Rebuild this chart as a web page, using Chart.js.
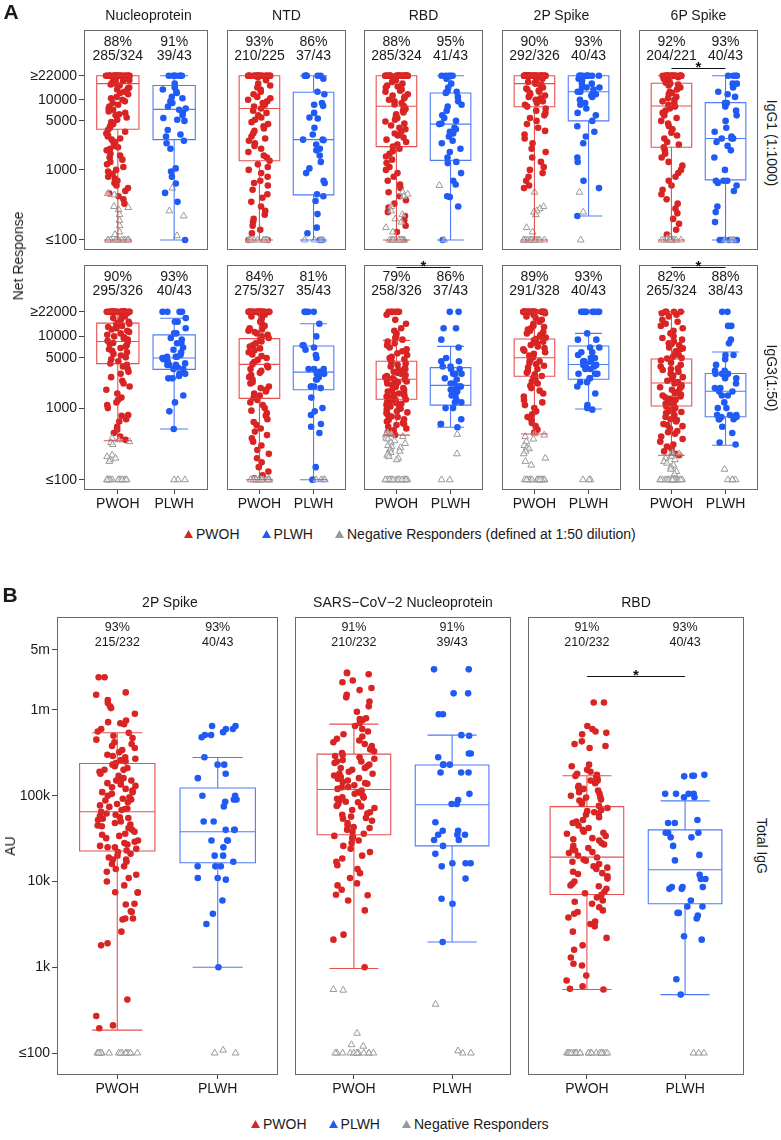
<!DOCTYPE html>
<html>
<head>
<meta charset="utf-8">
<script src="https://cdn.jsdelivr.net/npm/chart.js@4.4.0/dist/chart.umd.min.js"></script>
<style>
  body { margin: 0; background: #fff; }
  #page { position: relative; width: 781px; height: 1140px; overflow: hidden; font-family: "Liberation Sans", Arial, sans-serif; color: #1a1a1a; }
  #page canvas { position: absolute; }
  .lbl { position: absolute; white-space: nowrap; line-height: 1; }
  .legend { position: absolute; display: flex; align-items: center; font-size: 14px; line-height: 1; white-space: nowrap; }
  .legend svg { margin-right: 3px; }
  .legend span { margin-right: 22px; }
</style>
</head>
<body>
<div id="page"></div>
<script>
// ---------- labels ----------
const GROUPS = ['PWOH', 'PLWH'];
const A_ANTIGENS = ['Nucleoprotein', 'NTD', 'RBD', '2P Spike', '6P Spike'];
const A_ROWS = ['IgG1 (1:1000)', 'IgG3(1:50)'];
const B_ANTIGENS = ['2P Spike', 'SARS\u2212CoV\u22122 Nucleoprotein', 'RBD'];

const A_TICKS = [100, 1000, 5000, 10000, 22000];
const A_TICK_LABELS = ['\u2264100', '1000', '5000', '10000', '\u226522000'];
const B_TICKS = [100, 1000, 10000, 100000, 1000000, 5000000];
const B_TICK_LABELS = ['\u2264100', '1k', '10k', '100k', '1m', '5m'];

// response rates shown above the boxes
const IGG1_PCT_PWOH = ['88%', '93%', '88%', '90%', '92%'];
const IGG1_FRAC_PWOH = ['285/324', '210/225', '285/324', '292/326', '204/221'];
const IGG1_PCT_PLWH = ['91%', '86%', '95%', '93%', '93%'];
const IGG1_FRAC_PLWH = ['39/43', '37/43', '41/43', '40/43', '40/43'];
const IGG3_PCT_PWOH = ['90%', '84%', '79%', '89%', '82%'];
const IGG3_FRAC_PWOH = ['295/326', '275/327', '258/326', '291/328', '265/324'];
const IGG3_PCT_PLWH = ['93%', '81%', '86%', '93%', '88%'];
const IGG3_FRAC_PLWH = ['40/43', '35/43', '37/43', '40/43', '38/43'];
const B_PCT_PWOH = ['93%', '91%', '91%'];
const B_FRAC_PWOH = ['215/232', '210/232', '210/232'];
const B_PCT_PLWH = ['93%', '91%', '93%'];
const B_FRAC_PLWH = ['40/43', '39/43', '40/43'];
const IGG1_SIG = [false, false, false, false, true];
const IGG3_SIG = [false, false, true, false, true];
const B_SIG = [false, false, true];

// box stats: [lower whisker, Q1, median, Q3, upper whisker]
const IGG1_BOX_PWOH = [[100, 3800, 17000, 22000, 22000], [100, 1350, 7500, 22000, 22000], [100, 2150, 8100, 22000, 22000], [100, 7950, 17000, 22000, 22000], [100, 2100, 8150, 17200, 22000]];
const IGG1_BOX_PLWH = [[100, 2700, 7300, 16000, 22000], [100, 440, 2700, 12800, 22000], [100, 1365, 4500, 12500, 22000], [220, 5000, 13000, 22000, 22000], [100, 720, 2800, 9100, 22000]];
const IGG3_BOX_PWOH = [[350, 4170, 8500, 15300, 22000], [100, 1365, 4070, 9300, 22000], [420, 1330, 2530, 4500, 8800], [435, 2780, 5030, 9200, 22000], [220, 1070, 2240, 4840, 22000]];
const IGG3_BOX_PLWH = [[510, 3470, 5000, 10500, 17900], [100, 1800, 3170, 7330, 15000], [540, 1100, 2070, 3670, 7250], [970, 2530, 4050, 7330, 11000], [303, 757, 1720, 3030, 6050]];
const B_BOX_PWOH = [[185, 22700, 65000, 237000, 541000], [967, 35000, 118000, 305000, 683000], [550, 7060, 19200, 74500, 171000]];
const B_BOX_PLWH = [[1000, 16500, 38000, 123000, 279000], [1970, 26000, 78500, 228000, 508000], [480, 5500, 13700, 40000, 87000]];

// ---------- IgG1 (1:1000) points ----------
const IGG1_NUC_PWOH = [22000, 22000, 22000, 22000, 22000, 22000, 22000, 22000, 22000, 22000,
  22000, 22000, 22000, 22000, 22000, 22000, 22000, 22000, 22000, 22000,
  22000, 22000, 22000, 22000, 22000, 22000, 22000, 22000,
  20000, 19000, 18500, 18000, 17000, 16500, 16000, 15000, 14500, 14000, 13000, 12500, 12000, 11000,
  10500, 10000, 9500, 9000, 8500, 8000, 7500, 7200, 6800, 6500, 6200, 6000, 5600, 5200, 4800, 4500,
  4200, 4000, 3700, 3500, 3300, 3100, 3000, 2800, 2700, 2500, 2400, 2200, 2100, 2000, 1900, 1700,
  1600, 1500, 1400, 1300, 1200, 1100, 1000, 950, 880, 800, 750, 700, 650, 600, 550, 500, 460, 420, 380, 330];
const IGG1_NUC_NEG_PWOH = [460, 440, 300, 290, 270, 230, 190, 160, 130, 120,
  100, 100, 100, 100, 100, 100, 100, 100, 100, 100, 100, 100, 100, 100];
const IGG1_NUC_PLWH = [22000, 22000, 22000, 22000, 22000, 22000, 22000, 17000, 15000, 14000, 13000, 12500,
  11000, 10500, 9500, 9000, 8000, 7500, 7200, 6500, 6000, 5500, 5200, 5000, 3700, 3200, 3000, 2600,
  2400, 2000, 1050, 950, 800, 640, 470, 350, 100];
const IGG1_NUC_NEG_PLWH = [550, 260, 220, 115];

const IGG1_NTD_PWOH = [22000, 22000, 22000, 22000, 22000, 22000, 22000, 22000, 22000, 22000,
  22000, 22000, 22000, 22000, 22000, 22000, 22000, 22000, 22000, 22000, 22000, 22000,
  21000, 19000, 17000, 16000, 15000, 14000, 13000, 12000, 11000, 10500, 10000, 9500, 9000, 8500,
  8000, 7500, 7000, 6500, 6000, 5600, 5200, 4800, 4500, 4200, 3900, 3600, 3300, 3000, 2800, 2600,
  2400, 2200, 2000, 1800, 1600, 1500, 1350, 1200, 1100, 1000, 900, 800, 700, 650, 600, 520, 450,
  400, 350, 300, 260, 230, 200, 180, 160, 140, 125, 100, 100];
const IGG1_NTD_NEG_PWOH = [100, 100, 100, 100, 100, 100, 100, 100, 100, 100, 100, 100];
const IGG1_NTD_PLWH = [22000, 22000, 22000, 22000, 22000, 22000, 20000, 13000, 12000, 9000, 8500, 8200,
  6500, 5600, 5400, 4000, 3200, 2700, 2700, 2650, 2300, 2000, 1900, 1600, 1300, 1050, 900, 700, 650,
  450, 420, 360, 234, 150, 125, 100, 100];
const IGG1_NTD_NEG_PLWH = [100, 100, 100, 100];

const IGG1_RBD_PWOH = [22000, 22000, 22000, 22000, 22000, 22000, 22000, 22000, 22000, 22000,
  22000, 22000, 22000, 22000, 22000, 22000, 22000, 22000, 22000, 22000,
  22000, 22000, 22000, 22000, 22000, 22000, 22000, 22000, 22000, 22000,
  20000, 19000, 18000, 17000, 16000, 15500, 15000, 14000, 13500, 13000, 12000, 11500, 11000, 10500,
  10000, 9500, 9000, 8600, 8200, 7800, 7400, 7000, 6600, 6200, 5800, 5500, 5200, 4900, 4600, 4300,
  4000, 3800, 3500, 3300, 3100, 2900, 2700, 2500, 2300, 2150, 2000, 1850, 1700, 1550, 1400, 1250,
  1100, 1000, 900, 800, 700, 620, 550, 480, 420, 370, 330, 290, 250, 220, 190, 160, 130];
const IGG1_RBD_NEG_PWOH = [480, 450, 420, 300, 260, 230, 200, 180, 150, 130,
  100, 100, 100, 100, 100, 100, 100, 100, 100, 100, 100, 100, 100, 100];
const IGG1_RBD_PLWH = [22000, 22000, 22000, 22000, 22000, 20000, 17000, 15000, 13000, 13000, 12500,
  11000, 9500, 8500, 8000, 7000, 6000, 5500, 5000, 4600, 4500, 4000, 3800, 3500, 3300, 3000, 2600,
  2400, 2000, 1800, 1500, 1300, 1250, 900, 700, 620, 420, 410, 300, 100];
const IGG1_RBD_NEG_PLWH = [600, 100];

const IGG1_2P_PWOH = [22000, 22000, 22000, 22000, 22000, 22000, 22000, 22000, 22000, 22000,
  22000, 22000, 22000, 22000, 22000, 22000, 22000, 22000, 22000, 22000,
  22000, 22000, 22000, 22000, 22000, 22000, 22000, 22000, 22000, 22000,
  22000, 22000, 22000, 22000, 22000, 22000, 22000, 22000, 22000, 22000,
  21000, 20000, 19000, 18000, 17500, 17000, 16500, 16000, 15000, 14500, 14000, 13500, 13000, 12500,
  12000, 11500, 11000, 10500, 10000, 9500, 9000, 8500, 8000, 7500, 7000, 6500, 6000, 5500, 5000,
  4500, 4000, 3600, 3200, 2800, 2400, 2000, 1800, 1500, 1300, 1100, 1000, 900, 800, 700, 600, 550];
const IGG1_2P_NEG_PWOH = [480, 300, 280, 260, 250, 230, 150, 130,
  100, 100, 100, 100, 100, 100, 100, 100, 100, 100, 100, 100, 100, 100];
const IGG1_2P_PLWH = [22000, 22000, 22000, 22000, 22000, 22000, 22000, 22000, 22000, 22000, 20000,
  19000, 17000, 17000, 15000, 15000, 15000, 14000, 13000, 13000, 12000, 12000, 11500, 11000, 10000,
  9000, 8500, 7500, 6500, 6000, 5000, 4200, 3500, 3000, 2400, 1500, 1300, 700, 550, 220];
const IGG1_2P_NEG_PLWH = [480, 250, 100];

const IGG1_6P_PWOH = [22000, 22000, 22000, 22000, 22000, 22000, 22000, 22000, 22000, 22000,
  22000, 22000, 22000, 22000, 22000, 22000, 22000, 22000, 22000, 22000, 22000, 22000,
  21000, 20000, 19000, 18000, 17500, 17000, 16500, 16000, 15000, 14000, 13000, 12500, 12000, 11000,
  10500, 10000, 9500, 9000, 8500, 8000, 7500, 7000, 6500, 6000, 5500, 5000, 4600, 4200, 3800, 3400,
  3100, 2800, 2500, 2300, 2100, 1900, 1700, 1500, 1300, 1150, 1000, 900, 800, 700, 600, 520, 450,
  380, 330, 280, 240, 200, 170, 140, 120];
const IGG1_6P_NEG_PWOH = [110, 105, 100, 100, 100, 100, 100, 100, 100, 100, 100, 100, 100, 100];
const IGG1_6P_PLWH = [22000, 22000, 22000, 22000, 17000, 17000, 15000, 13000, 12000, 11000, 9000, 9000,
  8000, 7000, 6000, 5000, 4000, 3500, 3000, 2800, 2800, 2800, 2500, 2200, 1900, 1500, 1000, 700,
  700, 700, 650, 600, 500, 300, 250, 180, 100, 100, 100, 100, 100];
const IGG1_6P_NEG_PLWH = [100, 100, 100];

// ---------- IgG3 (1:50) points ----------
const IGG3_NUC_PWOH = [22000, 22000, 22000, 22000, 22000, 22000, 22000, 22000, 22000, 22000,
  22000, 22000, 22000, 22000, 22000, 22000, 22000, 22000, 22000, 22000,
  22000, 22000, 22000, 22000, 22000, 22000, 22000, 22000, 22000, 22000,
  21000, 20000, 19000, 18000, 17000, 16000, 15500, 15000, 14500, 14000, 13500, 13000, 12500, 12000,
  11500, 11000, 10500, 10000, 9700, 9400, 9000, 8700, 8400, 8100, 7800, 7500, 7200, 6900, 6600,
  6300, 6000, 5700, 5400, 5100, 4800, 4500, 4200, 4000, 3800, 3500, 3200, 3000, 2700, 2400, 2200,
  2000, 1800, 1600, 1400, 1300, 1200, 1100, 1000, 800, 780, 700, 650, 550, 500, 450, 400, 360];
const IGG3_NUC_NEG_PWOH = [380, 360, 340, 330, 310, 220, 210, 200, 190, 180,
  100, 100, 100, 100, 100, 100, 100, 100, 100, 100, 100, 100, 100, 100];
const IGG3_NUC_PLWH = [22000, 22000, 22000, 22000, 18000, 16000, 16000, 13000, 11000, 11000, 9500, 9000,
  8000, 8000, 7000, 6500, 6000, 5500, 5200, 5200, 5200, 5000, 4800, 4500, 4200, 4000, 4000, 4000,
  3700, 3500, 3500, 3000, 3000, 2800, 2600, 2600, 1500, 1200, 900, 510];
const IGG3_NUC_NEG_PLWH = [100, 100, 100];

const IGG3_NTD_PWOH = [22000, 22000, 22000, 22000, 22000, 22000, 22000, 22000, 22000, 22000,
  22000, 22000, 22000, 22000, 22000, 22000, 22000, 22000, 22000, 22000,
  21000, 20000, 19000, 18000, 17000, 16000, 15000, 14000, 13000, 12500, 12000, 11500, 11000, 10500,
  10000, 9500, 9000, 8500, 8000, 7600, 7200, 6800, 6400, 6000, 5600, 5300, 5000, 4700, 4400, 4100,
  3900, 3700, 3500, 3300, 3100, 2900, 2700, 2500, 2300, 2200, 2000, 1900, 1800, 1700, 1600, 1500,
  1400, 1300, 1200, 1100, 1000, 920, 850, 780, 700, 640, 580, 520, 470, 420, 380, 340, 300, 260,
  230, 200, 175, 150, 130, 115, 105];
const IGG3_NTD_NEG_PWOH = [100, 100, 100, 100, 100, 100, 100, 100, 100, 100,
  100, 100, 100, 100, 100, 100, 100, 100, 100, 100];
const IGG3_NTD_PLWH = [22000, 22000, 22000, 22000, 15000, 10000, 7500, 7500, 7000, 6500, 5500, 5000,
  3500, 3500, 3500, 3200, 3000, 3000, 2700, 2500, 2500, 2000, 2000, 2000, 1900, 1400, 1000, 900,
  800, 600, 550, 450, 150, 100, 100];
const IGG3_NTD_NEG_PLWH = [100, 100, 100, 100];

const IGG3_RBD_PWOH = [22000, 22000, 22000, 22000, 22000, 22000, 20000, 17000, 15000, 13000, 12000,
  11000, 10000, 9500, 9000, 8500, 8000, 7500, 7000, 6600, 6200, 5800, 5500, 5200, 5000, 4800, 4600,
  4400, 4200, 4000, 3800, 3600, 3500, 3400, 3300, 3200, 3100, 3000, 2900, 2800, 2700, 2600, 2500,
  2450, 2400, 2350, 2300, 2200, 2100, 2000, 1950, 1900, 1800, 1750, 1700, 1650, 1600, 1550, 1500,
  1450, 1400, 1350, 1320, 1300, 1250, 1200, 1180, 1150, 1100, 1050, 1000, 980, 950, 900, 870, 850,
  800, 760, 750, 700, 680, 650, 620, 600, 580, 550, 520, 490, 480, 460, 440, 420];
const IGG3_RBD_NEG_PWOH = [450, 430, 420, 400, 380, 370, 350, 330, 320, 300, 290, 280, 270, 260, 250,
  240, 230, 220, 210, 200, 190, 100, 100, 100, 100, 100, 100, 100, 100, 100, 100, 100, 100, 100,
  100, 100, 100, 100, 100];
const IGG3_RBD_PLWH = [22000, 22000, 13000, 13000, 9000, 7000, 5000, 4500, 4500, 3800, 3800, 3500,
  3500, 3000, 3000, 3000, 2600, 2500, 2200, 2200, 2000, 2000, 2000, 1800, 1800, 1700, 1500, 1500,
  1300, 1200, 1200, 1000, 1000, 700, 600, 600, 540];
const IGG3_RBD_NEG_PLWH = [430, 230, 100, 100];

const IGG3_2P_PWOH = [22000, 22000, 22000, 22000, 22000, 22000, 22000, 22000, 22000, 22000,
  22000, 22000, 22000, 22000, 22000, 22000, 22000, 22000, 22000, 22000, 22000, 22000,
  21000, 20000, 19000, 18000, 17000, 16000, 15000, 14000, 13500, 13000, 12500, 12000, 11500, 11000,
  10500, 10000, 9600, 9200, 8800, 8400, 8000, 7600, 7200, 6900, 6600, 6300, 6000, 5700, 5400, 5100,
  4900, 4700, 4500, 4300, 4100, 3900, 3700, 3500, 3300, 3100, 2950, 2800, 2650, 2500, 2350, 2200,
  2050, 1900, 1750, 1600, 1450, 1300, 1200, 1100, 1000, 900, 820, 750, 680, 620, 560, 500, 460];
const IGG3_2P_NEG_PWOH = [440, 420, 400, 370, 340, 300, 280, 270, 250, 230, 200, 180, 160,
  100, 100, 100, 100, 100, 100, 100, 100, 100, 100, 100, 100, 100, 100, 100, 100];
const IGG3_2P_PLWH = [22000, 22000, 22000, 22000, 22000, 22000, 22000, 22000, 11000, 9000, 9000, 7000,
  7000, 6000, 6000, 5500, 5000, 5000, 5000, 4500, 4500, 4500, 4000, 4000, 4000, 3800, 3500, 3500,
  3000, 3000, 3000, 2600, 2600, 2300, 2300, 2000, 1600, 1100, 1000, 950];
const IGG3_2P_NEG_PLWH = [100, 100, 100];

const IGG3_6P_PWOH = [22000, 22000, 22000, 22000, 21000, 20000, 19000, 17000, 16000, 15000, 14000,
  13000, 12000, 11000, 10000, 9500, 9000, 8500, 8000, 7800, 7500, 7000, 6800, 6600, 6200, 5800,
  5500, 5200, 5000, 4900, 4600, 4300, 4000, 3800, 3600, 3500, 3400, 3200, 3000, 2850, 2700, 2600,
  2550, 2400, 2300, 2200, 2100, 2000, 1950, 1900, 1800, 1700, 1600, 1550, 1500, 1450, 1400, 1350,
  1300, 1250, 1200, 1180, 1150, 1100, 1050, 1000, 980, 950, 900, 880, 850, 800, 780, 750, 700, 680,
  650, 600, 580, 560, 520, 480, 460, 440, 400, 370, 340, 310, 290, 270, 250, 230, 220];
const IGG3_6P_NEG_PWOH = [240, 230, 220, 210, 200, 190, 180, 170, 160, 150, 140, 130, 120,
  100, 100, 100, 100, 100, 100, 100, 100, 100, 100, 100, 100, 100, 100, 100, 100, 100, 100, 100,
  100, 100, 100];
const IGG3_6P_PLWH = [22000, 22000, 14000, 14000, 9000, 8000, 5500, 5500, 4800, 4000, 3300, 3300, 3000,
  3000, 3000, 2600, 2600, 2200, 1900, 1900, 1700, 1700, 1500, 1500, 1200, 1000, 1000, 800, 800, 800,
  750, 750, 700, 700, 700, 550, 450, 330, 310];
const IGG3_6P_NEG_PLWH = [140, 100, 100, 100, 100];

// ---------- Total IgG (AU) points ----------
const B_2P_PWOH = [2400000, 2400000, 1600000, 1500000, 1300000, 1200000, 1100000, 1050000, 900000,
  750000, 720000, 700000, 680000, 600000, 560000, 540000, 500000, 470000, 450000, 420000, 400000,
  380000, 360000, 340000, 320000, 300000, 290000, 280000, 270000, 260000, 250000, 240000, 230000,
  220000, 210000, 200000, 200000, 190000, 180000, 170000, 160000, 150000, 150000, 145000, 140000,
  135000, 130000, 125000, 120000, 115000, 110000, 110000, 105000, 100000, 96000, 92000, 90000,
  88000, 84000, 80000, 77000, 74000, 71000, 70000, 68000, 65000, 62000, 60000, 58000, 56000, 55000,
  54000, 52000, 50000, 48000, 46000, 45000, 44000, 42000, 40000, 38000, 36000, 35000, 34000, 32000,
  30000, 29000, 28000, 27000, 26000, 25000, 25000, 24000, 23000, 22000, 21000, 20000, 19000, 18000,
  18000, 17000, 16000, 15000, 14000, 13000, 12000, 11000, 10000, 9000, 7500, 7500, 7400, 5500,
  5400, 4500, 4400, 3700, 3700, 3600, 2600, 1900, 1800, 420, 270, 210, 195];
const B_2P_NEG_PWOH = [100, 100, 100, 100, 100, 100, 100, 100, 100, 100, 100, 100, 100, 100, 100];
const B_2P_PLWH = [650000, 650000, 600000, 600000, 550000, 510000, 510000, 480000, 280000, 230000,
  230000, 180000, 160000, 100000, 100000, 90000, 90000, 85000, 75000, 50000, 50000, 40000, 40000,
  40000, 30000, 30000, 30000, 25000, 20000, 20000, 17000, 15000, 15000, 15000, 11000, 11000, 10500,
  6000, 4200, 3200, 1000];
const B_2P_NEG_PLWH = [100, 108, 100];

const B_NUC_PWOH = [2700000, 2700000, 2600000, 2200000, 2100000, 1800000, 1700000, 1500000, 1400000,
  1250000, 1100000, 950000, 800000, 780000, 760000, 700000, 650000, 600000, 560000, 520000, 490000,
  460000, 440000, 420000, 400000, 380000, 360000, 350000, 345000, 330000, 315000, 300000, 290000,
  280000, 270000, 260000, 250000, 250000, 240000, 230000, 220000, 210000, 210000, 200000, 190000,
  180000, 180000, 172000, 165000, 160000, 158000, 150000, 144000, 140000, 138000, 132000, 126000,
  125000, 120000, 115000, 110000, 108000, 105000, 100000, 96000, 95000, 92000, 88000, 85000, 84000,
  80000, 76000, 75000, 72000, 68000, 64000, 62000, 60000, 57000, 55000, 54000, 51000, 48000, 45000,
  43000, 42000, 40000, 38000, 36000, 34000, 33000, 32000, 30000, 28000, 26000, 24000, 22000, 20000,
  18500, 17000, 15500, 14000, 12500, 11000, 9500, 9000, 8000, 7000, 6900, 6000, 4600, 2400, 2100, 1000];
const B_NUC_NEG_PWOH = [550, 540, 170, 125, 120, 100, 100, 100, 100, 100, 100, 100, 100, 100, 100, 100, 100];
const B_NUC_PLWH = [2970000, 2970000, 1560000, 1560000, 890000, 890000, 508000, 500000, 310000, 310000,
  280000, 230000, 230000, 230000, 186000, 186000, 186000, 105000, 89000, 80000, 80000, 49000, 39000,
  39000, 35000, 35000, 35000, 30500, 30500, 26000, 21000, 16300, 16300, 16300, 15000, 10800, 6300,
  5500, 1970];
const B_NUC_NEG_PLWH = [370, 100, 100, 106];

const B_RBD_PWOH = [1220000, 1220000, 650000, 600000, 560000, 540000, 520000, 430000, 400000, 380000,
  360000, 230000, 220000, 200000, 190000, 180000, 175000, 170000, 165000, 160000, 150000, 150000,
  140000, 130000, 125000, 120000, 115000, 110000, 105000, 100000, 96000, 95000, 90000, 88000, 85000,
  80000, 76000, 72000, 68000, 66000, 64000, 62000, 60000, 56000, 52000, 50000, 48000, 45000, 42000,
  40000, 38000, 37000, 36000, 34000, 32000, 31000, 30000, 28000, 27000, 26000, 24500, 24000, 23000,
  22000, 21500, 20000, 19000, 18000, 17500, 17000, 16000, 15000, 14500, 14000, 13000, 12500, 12200,
  11500, 10800, 10000, 9400, 9000, 8800, 8200, 7600, 7300, 7000, 6500, 6000, 5800, 5500, 5000, 4600,
  4400, 4200, 3800, 3400, 3200, 3000, 2600, 2200, 1800, 1600, 1300, 1100, 1050, 800, 700, 600, 560, 550];
const B_RBD_NEG_PWOH = [100, 100, 100, 100, 100, 100, 100, 100, 100, 100, 100,
  100, 100, 100, 100, 100, 100, 100, 100, 100, 100, 100];
const B_RBD_PLWH = [175000, 171000, 168000, 171000, 105000, 105000, 105000, 105000, 96000, 96000,
  52000, 48000, 48000, 37000, 37000, 37000, 32700, 32700, 26000, 20400, 17600, 12000, 10700, 10700,
  8600, 8600, 8600, 8200, 8200, 6000, 5100, 5100, 4300, 4300, 4000, 3700, 2300, 2100, 725, 480];
const B_RBD_NEG_PLWH = [100, 100, 100];

// grouped per row, same order as the antigen names
const IGG1_PWOH = [IGG1_NUC_PWOH, IGG1_NTD_PWOH, IGG1_RBD_PWOH, IGG1_2P_PWOH, IGG1_6P_PWOH];
const IGG1_PLWH = [IGG1_NUC_PLWH, IGG1_NTD_PLWH, IGG1_RBD_PLWH, IGG1_2P_PLWH, IGG1_6P_PLWH];
const IGG1_NEG_PWOH = [IGG1_NUC_NEG_PWOH, IGG1_NTD_NEG_PWOH, IGG1_RBD_NEG_PWOH, IGG1_2P_NEG_PWOH, IGG1_6P_NEG_PWOH];
const IGG1_NEG_PLWH = [IGG1_NUC_NEG_PLWH, IGG1_NTD_NEG_PLWH, IGG1_RBD_NEG_PLWH, IGG1_2P_NEG_PLWH, IGG1_6P_NEG_PLWH];
const IGG3_PWOH = [IGG3_NUC_PWOH, IGG3_NTD_PWOH, IGG3_RBD_PWOH, IGG3_2P_PWOH, IGG3_6P_PWOH];
const IGG3_PLWH = [IGG3_NUC_PLWH, IGG3_NTD_PLWH, IGG3_RBD_PLWH, IGG3_2P_PLWH, IGG3_6P_PLWH];
const IGG3_NEG_PWOH = [IGG3_NUC_NEG_PWOH, IGG3_NTD_NEG_PWOH, IGG3_RBD_NEG_PWOH, IGG3_2P_NEG_PWOH, IGG3_6P_NEG_PWOH];
const IGG3_NEG_PLWH = [IGG3_NUC_NEG_PLWH, IGG3_NTD_NEG_PLWH, IGG3_RBD_NEG_PLWH, IGG3_2P_NEG_PLWH, IGG3_6P_NEG_PLWH];
const B_PWOH = [B_2P_PWOH, B_NUC_PWOH, B_RBD_PWOH];
const B_PLWH = [B_2P_PLWH, B_NUC_PLWH, B_RBD_PLWH];
const B_NEG_PWOH = [B_2P_NEG_PWOH, B_NUC_NEG_PWOH, B_RBD_NEG_PWOH];
const B_NEG_PLWH = [B_2P_NEG_PLWH, B_NUC_NEG_PLWH, B_RBD_NEG_PLWH];

// ---------- look ----------
const FONT = '"Liberation Sans", Arial, sans-serif';
const RED = '#d92424';
const BLUE = '#1f5af5';
const GRAY = '#9a9a9a';
const BOX_COLORS = ['rgba(226, 50, 50, 0.85)', 'rgba(48, 100, 246, 0.85)'];
const BOX_WIDTH = 0.75;
const CAP_WIDTH = 0.5;
const JIT = 0.21;

Chart.defaults.font.family = FONT;
Chart.defaults.color = '#1a1a1a';

const page = document.getElementById('page');

function jitter(i, seed) {
  const s = Math.sin((i + 1) * 12.9898 + seed * 78.233) * 43758.5453;
  return (s - Math.floor(s) - 0.5) * 2 * JIT;
}

function addCanvas(left, top, w, h) {
  const c = document.createElement('canvas');
  c.width = w;
  c.height = h;
  c.style.left = left + 'px';
  c.style.top = top + 'px';
  c.style.width = w + 'px';
  c.style.height = h + 'px';
  page.appendChild(c);
  return c;
}

function addLabel(text, x, y, size, rot, weight) {
  const d = document.createElement('div');
  d.className = 'lbl';
  d.textContent = text;
  d.style.left = x + 'px';
  d.style.top = y + 'px';
  d.style.fontSize = size + 'px';
  if (weight) d.style.fontWeight = weight;
  d.style.transform = 'translate(-50%, -50%)' + (rot ? ' rotate(' + rot + 'deg)' : '');
  page.appendChild(d);
}

// boxes, panel frame, response rates and significance bar
function decoPlugin(p) {
  return {
    id: 'deco',
    afterDatasetsDraw(chart) {
      const ctx = chart.ctx, a = chart.chartArea;
      const xs = chart.scales.x, ys = chart.scales.y;
      const unit = xs.getPixelForValue(2) - xs.getPixelForValue(1);
      const hw = unit * BOX_WIDTH / 2, cw = unit * CAP_WIDTH / 2;
      ctx.save();
      ctx.lineWidth = 1.1;
      p.boxes.forEach((b, g) => {
        const cx = xs.getPixelForValue(g + 1);
        const [lo, q1, md, q3, hi] = b.map(v => ys.getPixelForValue(v));
        ctx.strokeStyle = BOX_COLORS[g];
        ctx.beginPath();
        ctx.rect(cx - hw, q3, hw * 2, q1 - q3);
        ctx.moveTo(cx - hw, md); ctx.lineTo(cx + hw, md);
        ctx.moveTo(cx, q3); ctx.lineTo(cx, hi);
        ctx.moveTo(cx, q1); ctx.lineTo(cx, lo);
        ctx.moveTo(cx - cw, hi); ctx.lineTo(cx + cw, hi);
        ctx.moveTo(cx - cw, lo); ctx.lineTo(cx + cw, lo);
        ctx.stroke();
      });
      ctx.strokeStyle = '#6a6a6a';
      ctx.lineWidth = 1;
      ctx.strokeRect(a.left + 0.5, a.top + 0.5, a.width - 1, a.height - 1);

      ctx.fillStyle = '#1a1a1a';
      ctx.font = p.pctSize + 'px ' + FONT;
      ctx.textAlign = 'center';
      ctx.textBaseline = 'middle';
      [p.pctPwoh, p.pctPlwh].forEach((t, g) => {
        const cx = xs.getPixelForValue(g + 1);
        ctx.fillText(t[0], cx, a.top + p.l1);
        ctx.fillText(t[1], cx, a.top + p.l2);
      });
      if (p.sig) {
        const x1 = xs.getPixelForValue(1), x2 = xs.getPixelForValue(2);
        const y = Math.round(a.top + p.sigY) + 0.5;
        ctx.strokeStyle = '#111';
        ctx.beginPath();
        ctx.moveTo(x1, y); ctx.lineTo(x2, y);
        ctx.stroke();
        ctx.font = 'bold 15px ' + FONT;
        ctx.textBaseline = 'alphabetic';
        ctx.fillStyle = '#111';
        ctx.fillText('*', (x1 + x2) / 2, y + 3);
      }
      ctx.restore();
    }
  };
}

function makePanel(p) {
  const padTop = 14;
  const axisW = p.showY ? p.axisW : 0;
  const axisH = p.showX ? p.axisH : 0;
  const canvas = addCanvas(p.left - axisW, p.top - padTop, p.w + axisW, padTop + p.h + axisH);
  const pts = (vals, g, seed) => vals.map((v, i) => ({ x: g + 1 + jitter(i, seed), y: v }));
  const tickFont = { size: p.tickSize, family: FONT };
  new Chart(canvas, {
    type: 'scatter',
    data: {
      datasets: [
        {
          data: pts(p.negPwoh, 0, p.seed + 2).concat(pts(p.negPlwh, 1, p.seed + 3)),
          pointStyle: 'triangle', pointRadius: p.radius + 0.6,
          backgroundColor: 'rgba(255,255,255,0.55)', borderColor: GRAY, borderWidth: 1, order: 1
        },
        { data: pts(p.pwoh, 0, p.seed), pointRadius: p.radius, backgroundColor: RED, borderWidth: 0, order: 2 },
        { data: pts(p.plwh, 1, p.seed + 1), pointRadius: p.radius, backgroundColor: BLUE, borderWidth: 0, order: 2 }
      ]
    },
    options: {
      responsive: false,
      animation: false,
      devicePixelRatio: 1,
      events: [],
      layout: { padding: { top: padTop, left: 0, right: 0, bottom: 0 } },
      plugins: { legend: { display: false }, tooltip: { enabled: false } },
      scales: {
        x: {
          type: 'linear', min: 0.4, max: 2.6, display: p.showX,
          afterBuildTicks: s => { s.ticks = [{ value: 1 }, { value: 2 }]; },
          afterFit: s => { s.height = axisH; s.paddingLeft = 0; s.paddingRight = 0; },
          ticks: { callback: v => GROUPS[Math.round(v) - 1], font: { size: 14, family: FONT }, color: '#1a1a1a', padding: 2, autoSkip: false, maxRotation: 0 },
          grid: { display: true, drawOnChartArea: false, drawTicks: true, tickLength: 4, color: '#444' },
          border: { display: false }
        },
        y: {
          type: 'logarithmic', min: p.yMin, max: p.yMax, display: p.showY,
          afterBuildTicks: s => { s.ticks = p.ticks.map(v => ({ value: v })); },
          // labels sit well inside the panel, so no extra room is needed above or below
          afterFit: s => { s.width = axisW; s.paddingTop = 0; s.paddingBottom = 0; },
          ticks: { callback: v => p.tickLabels[p.ticks.indexOf(v)], font: tickFont, color: '#1a1a1a', padding: 2, autoSkip: false },
          grid: { display: true, drawOnChartArea: false, drawTicks: true, tickLength: 5, color: '#444' },
          border: { display: false }
        }
      }
    },
    plugins: [decoPlugin(p)]
  });
}

// ---------- panel A ----------
const A_LEFT = [84, 222, 359, 497, 634];
const A_TOP = [30, 265];
const A_W = 129, A_H = 225;
const aRows = [
  { pwoh: IGG1_PWOH, plwh: IGG1_PLWH, negPwoh: IGG1_NEG_PWOH, negPlwh: IGG1_NEG_PLWH, boxPwoh: IGG1_BOX_PWOH, boxPlwh: IGG1_BOX_PLWH,
    pct: [IGG1_PCT_PWOH, IGG1_FRAC_PWOH, IGG1_PCT_PLWH, IGG1_FRAC_PLWH], sig: IGG1_SIG, sigY: 38 },
  { pwoh: IGG3_PWOH, plwh: IGG3_PLWH, negPwoh: IGG3_NEG_PWOH, negPlwh: IGG3_NEG_PLWH, boxPwoh: IGG3_BOX_PWOH, boxPlwh: IGG3_BOX_PLWH,
    pct: [IGG3_PCT_PWOH, IGG3_FRAC_PWOH, IGG3_PCT_PLWH, IGG3_FRAC_PLWH], sig: IGG3_SIG, sigY: 2 }
];
aRows.forEach((r, ri) => {
  A_ANTIGENS.forEach((name, ci) => {
    makePanel({
      left: A_LEFT[ci], top: A_TOP[ri], w: A_W, h: A_H,
      showY: ci === 0, axisW: 60, showX: ri === 1, axisH: 26,
      yMin: 72, yMax: 99000, ticks: A_TICKS, tickLabels: A_TICK_LABELS, tickSize: 14,
      pwoh: r.pwoh[ci], plwh: r.plwh[ci], negPwoh: r.negPwoh[ci], negPlwh: r.negPlwh[ci],
      boxes: [r.boxPwoh[ci], r.boxPlwh[ci]],
      pctPwoh: [r.pct[0][ci], r.pct[1][ci]], pctPlwh: [r.pct[2][ci], r.pct[3][ci]],
      pctSize: 14, l1: 12, l2: 26, sig: r.sig[ci], sigY: r.sigY,
      radius: 3.3, seed: ri * 10 + ci * 4
    });
    if (ri === 0) addLabel(name, A_LEFT[ci] + A_W / 2, 15, 14);
  });
  addLabel(A_ROWS[ri], 772, A_TOP[ri] + A_H / 2, 14, 90);
});
addLabel('A', 11, 11, 21, 0, 'bold');
addLabel('Net Response', 18, 256, 14, -90);

// ---------- panel B ----------
const B_LEFT = [57, 290, 523];
const B_TOP = 617;
const B_W = 226, B_H = 458;
B_ANTIGENS.forEach((name, ci) => {
  makePanel({
    left: B_LEFT[ci], top: B_TOP, w: B_W, h: B_H,
    showY: ci === 0, axisW: 50, showX: true, axisH: 26,
    yMin: 55.5, yMax: 12100000, ticks: B_TICKS, tickLabels: B_TICK_LABELS, tickSize: 14,
    pwoh: B_PWOH[ci], plwh: B_PLWH[ci], negPwoh: B_NEG_PWOH[ci], negPlwh: B_NEG_PLWH[ci],
    boxes: [B_BOX_PWOH[ci], B_BOX_PLWH[ci]],
    pctPwoh: [B_PCT_PWOH[ci], B_FRAC_PWOH[ci]], pctPlwh: [B_PCT_PLWH[ci], B_FRAC_PLWH[ci]],
    pctSize: 12.5, l1: 11, l2: 26, sig: B_SIG[ci], sigY: 59,
    radius: 3.3, seed: 100 + ci * 4
  });
  addLabel(name, B_LEFT[ci] + B_W / 2, 602, 14);
});
addLabel('Total IgG', 762, B_TOP + B_H / 2, 14, 90);
addLabel('B', 10, 594, 21, 0, 'bold');
addLabel('AU', 10, 846, 14, -90);

// ---------- legends ----------
function tri(color) {
  return '<svg width="9" height="8" viewBox="0 0 9 8"><polygon points="4.5,0 9,8 0,8" fill="' + color + '"/></svg>';
}
function addLegend(x, y, items) {
  const d = document.createElement('div');
  d.className = 'legend';
  d.style.left = x + 'px';
  d.style.top = (y - 8) + 'px';
  d.innerHTML = items.map(it => tri(it[1]) + '<span>' + it[0] + '</span>').join('');
  page.appendChild(d);
}
addLegend(184, 535, [['PWOH', RED], ['PLWH', BLUE], ['Negative Responders (defined at 1:50 dilution)', '#999']]);
addLegend(251, 1125, [['PWOH', RED], ['PLWH', BLUE], ['Negative Responders', '#999']]);
</script>
</body>
</html>
